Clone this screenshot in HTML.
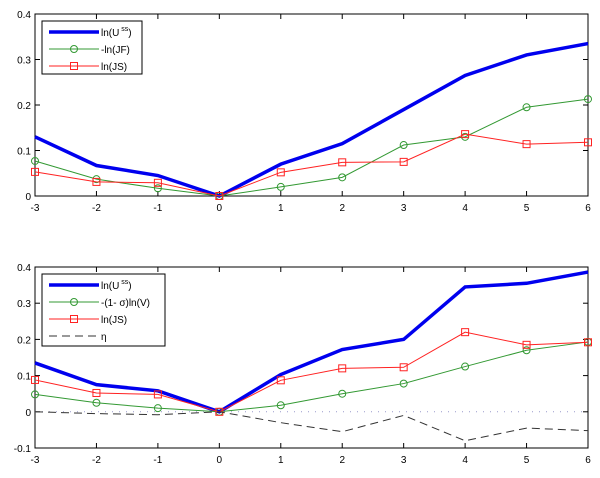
<!DOCTYPE html>
<html><head><meta charset="utf-8"><style>
body{margin:0;background:#fff;}
svg{display:block;font-family:"Liberation Sans",sans-serif;}
</style></head><body>
<svg id="c" width="600" height="478"></svg>
<script>
const xs=[-3,-2,-1,0,1,2,3,4,5,6];
const topU=[0.13,0.067,0.045,0,0.07,0.115,0.19,0.265,0.31,0.335];
const topJF=[0.077,0.037,0.017,0,0.02,0.041,0.112,0.13,0.195,0.213];
const topJS=[0.053,0.031,0.029,0,0.052,0.074,0.075,0.136,0.114,0.118];
const botU=[0.135,0.075,0.058,0,0.103,0.172,0.2,0.345,0.355,0.386];
const botV=[0.048,0.025,0.01,0,0.018,0.05,0.078,0.125,0.17,0.193];
const botJS=[0.088,0.052,0.048,0,0.087,0.12,0.123,0.22,0.185,0.192];
const botEta=[0,-0.005,-0.008,0,-0.03,-0.055,-0.01,-0.08,-0.045,-0.052];
const topYTicks=[0,0.1,0.2,0.3,0.4];
const botYTicks=[-0.1,0,0.1,0.2,0.3,0.4];
const NS='http://www.w3.org/2000/svg';
const svg=document.getElementById('c');
function mk(t,a,p){const e=document.createElementNS(NS,t);for(const k in a)e.setAttribute(k,a[k]);(p||svg).appendChild(e);return e;}
function panel(name,top,bot,ymin,ymax,yt,series,legend,lw,lh){
  const L=35,R=588;
  const g=mk('g',{});
  
  
  const sx=v=>L+(v+3)/9*(R-L);
  const sy=v=>bot-(v-ymin)/(ymax-ymin)*(bot-top);
  mk('rect',{x:L,y:top,width:R-L,height:bot-top,fill:'none',stroke:'#000','stroke-width':1},g);
  xs.forEach(v=>{const x=sx(v);
    mk('line',{x1:x,x2:x,y1:bot,y2:bot-5,stroke:'#000'},g);
    mk('line',{x1:x,x2:x,y1:top,y2:top+5,stroke:'#000'},g);
    const t=mk('text',{x:x,y:bot+15,'font-size':10,'text-anchor':'middle'},g);t.textContent=v;
    });
  yt.forEach(v=>{const y=sy(v);
    mk('line',{x1:L,x2:L+5,y1:y,y2:y,stroke:'#000'},g);
    mk('line',{x1:R,x2:R-5,y1:y,y2:y,stroke:'#000'},g);
    const t=mk('text',{x:L-4,y:y+4,'font-size':10,'text-anchor':'end'},g);t.textContent=(v===0?'0':String(v));
    });
  if(ymin<0) mk('line',{x1:L,x2:R,y1:sy(0),y2:sy(0),stroke:'#99c','stroke-width':1,'stroke-dasharray':'1 6'},g);
  series.forEach(s=>{
    const pts=s.d.map((v,i)=>sx(xs[i])+','+sy(v)).join(' ');
    const pl=mk('polyline',{points:pts,fill:'none',stroke:s.c,'stroke-width':s.w,'stroke-dasharray':s.dash||'none'},g);
    
    s.d.forEach((v,i)=>{
      if(s.m==='o'){const m=mk('circle',{cx:sx(xs[i]),cy:sy(v),r:3.5,fill:'none',stroke:s.c},g);}
      if(s.m==='s'){const m=mk('rect',{x:sx(xs[i])-3.5,y:sy(v)-3.5,width:7,height:7,fill:'none',stroke:s.c},g);}
    });
  });
  const lg=mk('g',{},g);
  
  mk('rect',{x:42,y:top+7,width:lw,height:lh,fill:'#fff',stroke:'#000'},lg);
  legend.forEach((e,i)=>{const y=top+18+i*17;const s=series[i];
    mk('line',{x1:49,x2:99,y1:y,y2:y,stroke:s.c,'stroke-width':s.w,'stroke-dasharray':s.dash||'none'},lg);
    if(s.m==='o')mk('circle',{cx:74,cy:y,r:3.5,fill:'none',stroke:s.c},lg);
    if(s.m==='s')mk('rect',{x:70.5,y:y-3.5,width:7,height:7,fill:'none',stroke:s.c},lg);
    const t=mk('text',{x:101,y:y+4,'font-size':10},lg);t.innerHTML=e;
    });
}
const U='ln(U<tspan dy="-5" font-size="7"> ss</tspan><tspan dy="5">)</tspan>';
panel('top-panel',14,196,0,0.4,topYTicks,[
 {n:'line-lnU',d:topU,c:'#0000ee',w:3.5},
 {n:'line-lnJF',d:topJF,c:'#339933',w:1,m:'o'},
 {n:'line-lnJS',d:topJS,c:'#ff2222',w:1,m:'s'}],
 [U,'-ln(JF)','ln(JS)'],100,53);
panel('bottom-panel',267,448,-0.1,0.4,botYTicks,[
 {n:'line-lnU',d:botU,c:'#0000ee',w:3.5},
 {n:'line-lnV',d:botV,c:'#339933',w:1,m:'o'},
 {n:'line-lnJS',d:botJS,c:'#ff2222',w:1,m:'s'},
 {n:'line-eta',d:botEta,c:'#333',w:1,dash:'8 5'}],
 [U,'-(1-  σ)ln(V)','ln(JS)','η'],123,72);
</script>
</body></html>
